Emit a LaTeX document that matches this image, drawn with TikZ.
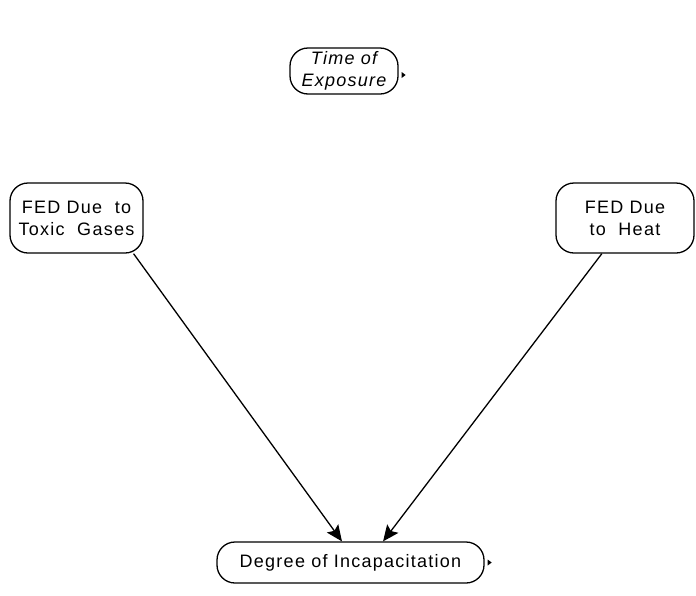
\documentclass[tikz,border=0pt]{standalone}
\usepackage{fontspec}
\setmainfont{Liberation Sans}
\usetikzlibrary{shapes,positioning,arrows.meta}

\tikzset{
  box/.style={draw, line width=1.3pt, rounded corners=18pt, align=center, inner sep=0pt,
    font=\fontsize{18}{22}\selectfont\addfontfeature{LetterSpace=7}},
  link/.style={line width=1.3pt, -{Stealth[length=16pt,width=14pt,inset=3pt]}},
}

\begin{document}
\begin{tikzpicture}[x=1pt,y=-1pt]

% Set the page size
\useasboundingbox (0,0) rectangle (696,595);

% Draw the nodes
\node[box, minimum width=108pt, minimum height=46pt] (time) at (344,71) {\itshape Time of\\\itshape Exposure};
\node[box, minimum width=133pt, minimum height=70pt] (toxic) at (76.5,218) {FED Due \ to\\Toxic \ Gases};
\node[box, minimum width=138pt, minimum height=70pt] (heat) at (625,218) {FED Due\\to \ Heat};
\node[box, minimum width=267pt, minimum height=41pt] (degree) at (350.5,562.5) {Degree of Incapacitation};

% Small output marks
\fill (time.east) ++(3,1) -- ++(4,3) -- ++(-4,3) -- cycle;
\fill (degree.east) ++(3,-3) -- ++(4,3) -- ++(-4,3) -- cycle;

% Draw the arrows
\draw[link] (toxic.-32) -- (degree.112);
\draw[link] (heat.-123) -- (degree.33);

\end{tikzpicture}
\end{document}
